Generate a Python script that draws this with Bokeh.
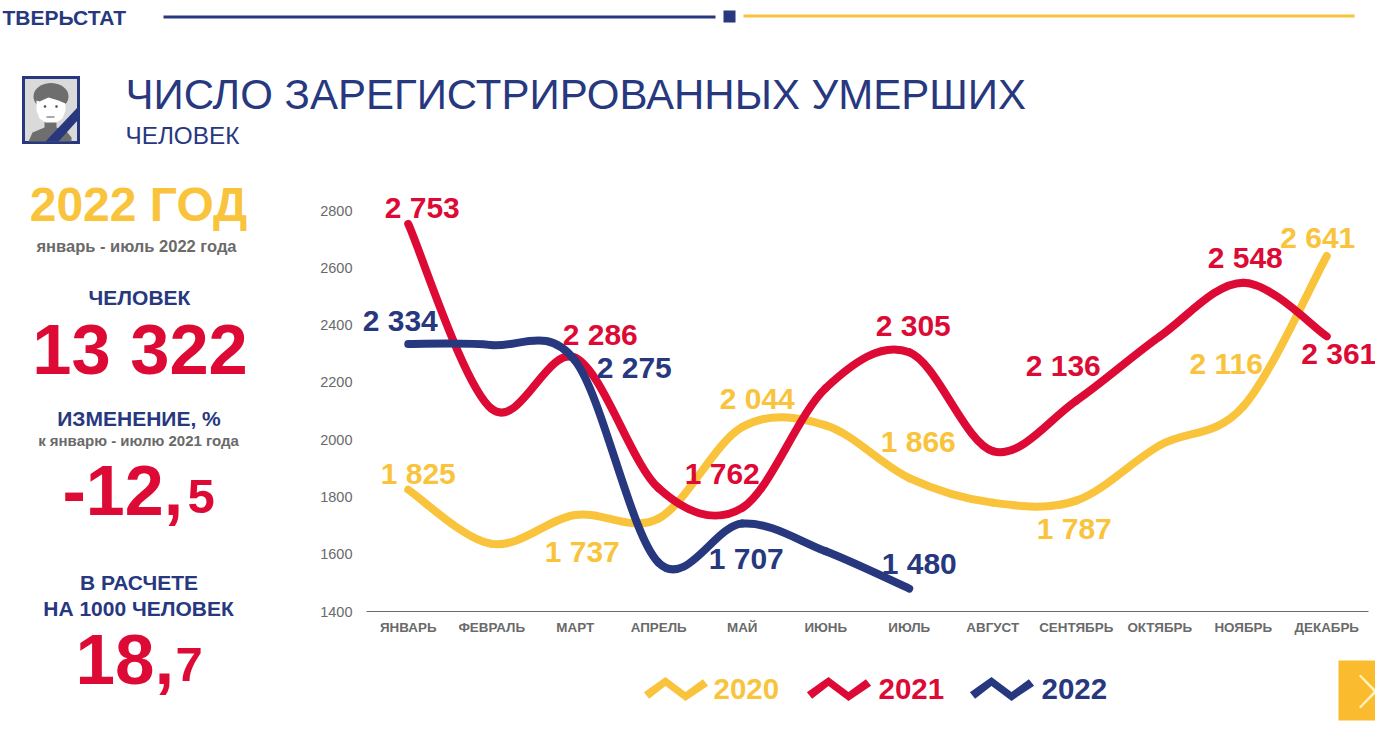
import numpy as np
from bokeh.plotting import figure
from bokeh.core.properties import value
from bokeh.models import (ColumnDataSource, Label, LabelSet, PolyAnnotation, FixedTicker, Range1d)
from bokeh.embed import file_html
from bokeh.resources import INLINE

# ---------- data ----------
months = ["ЯНВАРЬ", "ФЕВРАЛЬ", "МАРТ", "АПРЕЛЬ", "МАЙ", "ИЮНЬ", "ИЮЛЬ", "АВГУСТ",
          "СЕНТЯБРЬ", "ОКТЯБРЬ", "НОЯБРЬ", "ДЕКАБРЬ"]
y_ticks = [1400, 1600, 1800, 2000, 2200, 2400, 2600, 2800]
values_2020 = [1825, 1636, 1737, 1725, 2044, 2050, 1866, 1780, 1787, 1980, 2116, 2641]
values_2021 = [2753, 2107, 2286, 1830, 1762, 2180, 2305, 1960, 2136, 2360, 2548, 2361]
values_2022 = [2334, 2330, 2275, 1570, 1707, 1610, 1480]
# labelled months per series
labelled_2020 = [0, 2, 4, 6, 8, 10, 11]
labelled_2021 = [0, 2, 4, 6, 8, 10, 11]
labelled_2022 = [0, 2, 4, 6]

NAVY, RED, YELLOW, GREY = "#27387F", "#DC0A35", "#F9C33C", "#6A6A6A"
FONT = "Liberation Sans"
W, H = 1375, 729

# ---------- page background figure: frame fills the page, one unit is one pixel ----------
bg = figure(width=W, height=H, output_backend="svg", toolbar_location=None,
            x_range=Range1d(0, W), y_range=Range1d(H, 0),
            x_axis_location=None, y_axis_location=None,
            min_border=0, outline_line_color=None)
bg.grid.visible = False

# ---------- chart figure, laid over the page ----------
PX_PER_MONTH = 83.5
FRAME_LEFT = 360
p = figure(width=W, height=H, output_backend="svg", toolbar_location=None,
           x_range=Range1d(-(407.75 - FRAME_LEFT) / PX_PER_MONTH, (W - 407.75) / PX_PER_MONTH),
           y_range=Range1d(1400, 1400 + 431 / (401 / 1400)),
           min_border_left=FRAME_LEFT, min_border_right=0, min_border_top=180, min_border_bottom=118,
           margin=(-H, 0, 0, 0), outline_line_color=None, background_fill_color=None,
           border_fill_color=None)
p.grid.visible = False

p.xaxis.ticker = FixedTicker(ticks=list(range(12)))
p.xaxis.bounds = (-0.5, 11.5)
p.xaxis.major_label_overrides = {i: m for i, m in enumerate(months)}
p.xaxis.major_tick_line_color = None
p.xaxis.minor_tick_line_color = None
p.xaxis.axis_line_color = "#6A6A6A"
p.xaxis.axis_line_width = 1.2
p.xaxis.major_label_text_font = FONT
p.xaxis.major_label_text_font_style = "bold"
p.xaxis.major_label_text_font_size = "13.4px"
p.xaxis.major_label_text_color = GREY
p.xaxis.major_label_standoff = 2

p.yaxis.ticker = FixedTicker(ticks=y_ticks)
p.yaxis.axis_line_color = None
p.yaxis.major_tick_line_color = None
p.yaxis.minor_tick_line_color = None
p.yaxis.major_label_text_font = FONT
p.yaxis.major_label_text_font_size = "14.5px"
p.yaxis.major_label_text_color = GREY
p.yaxis.major_label_standoff = 2


def smooth(vals, color):
    """Chart-style smoothed line: one cubic Bezier per month interval."""
    v = np.array(vals, float)
    n = len(v)
    x = np.arange(n, dtype=float)
    prev_i = np.maximum(np.arange(n) - 1, 0)
    next_i = np.minimum(np.arange(n) + 1, n - 1)
    tx, ty = (x[next_i] - x[prev_i]) / 6, (v[next_i] - v[prev_i]) / 6
    p.bezier(x0=x[:-1], y0=v[:-1], x1=x[1:], y1=v[1:],
             cx0=x[:-1] + tx[:-1], cy0=v[:-1] + ty[:-1],
             cx1=x[1:] - tx[1:], cy1=v[1:] - ty[1:],
             line_color=color, line_width=8, line_cap="round")


smooth(values_2020, YELLOW)
smooth(values_2021, RED)
smooth(values_2022, NAVY)

# ---------- data labels ----------
fmt = lambda v: f"{v // 1000} {v % 1000:03d}"


def value_labels(vals, idx, dx, up, color):
    src = ColumnDataSource(dict(x=idx, y=[vals[i] for i in idx], t=[fmt(vals[i]) for i in idx],
                                dx=dx, up=up))
    p.add_layout(LabelSet(x="x", y="y", text="t", source=src, x_offset="dx", y_offset="up",
                          text_font=value(FONT), text_font_style="bold", text_font_size="30px",
                          text_color=color, text_align="center", text_baseline="middle"))


value_labels(values_2020, labelled_2020, [10, 7, 15, 9, -2, -17, -9], [16, -36.5, 28.5, 37, -28, 43, 18.5], YELLOW)
value_labels(values_2021, labelled_2021, [14, 25, -20, 4, -13, 2, 12], [16.5, 23, 34, 27, 35, 25, -17], RED)
value_labels(values_2022, labelled_2022, [-8, 59, 4, 10], [23, -7, -35, 25], NAVY)


# ---------- page decoration (pixels of the page) ----------
def txt(x, y, s, size, color, bold=True, align="center"):
    bg.add_layout(Label(x=x, y=y, x_units="canvas", y_units="canvas", text=s,
                        text_font=FONT, text_font_size=f"{size}px",
                        text_font_style="bold" if bold else "normal",
                        text_color=color, text_align=align, text_baseline="middle"))


def poly(xs, ys, color):
    bg.add_layout(PolyAnnotation(xs=list(map(float, xs)), ys=list(map(float, ys)),
                                 xs_units="canvas", ys_units="canvas",
                                 fill_color=color, fill_alpha=1, line_color=None))


def rect(x0, y0, x1, y1, color):
    poly([x0, x1, x1, x0], [y0, y0, y1, y1], color)


def oval(cx, cy, rx, ry, color):
    t = np.linspace(0, 2 * np.pi, 40, endpoint=False)
    poly(cx + rx * np.cos(t), cy + ry * np.sin(t), color)


# header
txt(2, 17, "ТВЕРЬСТАТ", 21, NAVY, align="left")
rect(163, 15, 715, 18, NAVY)
rect(723, 10, 735, 22, NAVY)
rect(743, 14, 1354, 17, YELLOW)

# icon
rect(21.5, 75.5, 79.5, 143.5, NAVY)
rect(24.5, 78.5, 76.5, 140.5, "#DADADA")
rect(44, 120, 56, 132, "#6E6E6E")
poly([28, 32, 44, 56, 67, 71, 71, 28], [141, 132, 127, 127, 132, 137, 141, 141], "#6E6E6E")
oval(50.5, 96, 17.5, 13.5, "#6E6E6E")
poly([36, 39, 48, 58, 65, 65, 62, 56, 45, 39, 36], [100, 101, 97, 100, 103, 110, 118, 122, 122, 118, 110], "white")
oval(44.5, 106, 1.3, 1.3, "#555555")
oval(56, 106, 1.3, 1.3, "#555555")
rect(46, 116, 54, 117, "#555555")
poly([77, 77, 58, 45], [107, 120, 141, 141], NAVY)

# title
txt(125, 94, "ЧИСЛО ЗАРЕГИСТРИРОВАННЫХ УМЕРШИХ", 42, NAVY, bold=False, align="left")
txt(125, 135, "ЧЕЛОВЕК", 24.3, NAVY, bold=False, align="left")

# left column
txt(138, 204, "2022 ГОД", 48, YELLOW)
txt(136, 245, "январь - июль 2022 года", 16.5, GREY)
txt(139, 297, "ЧЕЛОВЕК", 21, NAVY)
txt(139.5, 349, "13 322", 70.5, RED)
txt(138.5, 418, "ИЗМЕНЕНИЕ, %", 21, NAVY)
txt(138, 439.5, "к январю - июлю 2021 года", 15, GREY)
txt(62, 490, "-12,", 70, RED, align="left")
txt(187, 496, "5", 49, RED, align="left")
txt(138.5, 582, "В РАСЧЕТЕ", 21, NAVY)
txt(138, 608, "НА 1000 ЧЕЛОВЕК", 21, NAVY)
txt(75, 659, "18,", 71, RED, align="left")
txt(175, 664, "7", 49, RED, align="left")


# legend
def chevron(x0, color):
    cx = np.array([0, 19, 39, 59.0]) + x0
    cy = np.array([695, 681, 696, 682.0])
    nx, ny = 2.6, 3.2  # half-width of the end cuts
    top_x = [cx[0] - nx, cx[1], cx[2], cx[3] - nx]
    top_y = [cy[0] - ny, cy[1] - 4.4, cy[2] - 4.4, cy[3] - ny]
    bot_x = [cx[0] + nx, cx[1], cx[2], cx[3] + nx]
    bot_y = [cy[0] + ny, cy[1] + 4.4, cy[2] + 4.4, cy[3] + ny]
    poly(top_x + bot_x[::-1], top_y + bot_y[::-1], color)


for x0, tx0, lab, col in [(646, 713, "2020", YELLOW), (809, 878, "2021", RED), (972, 1041, "2022", NAVY)]:
    chevron(x0, col)
    txt(tx0, 688, lab, 29.5, col, align="left")

# next-page tile
rect(1338, 660, 1375, 720, "#FBBB2E")
poly([1360, 1375, 1375, 1360, 1358.5, 1373, 1358.5],
     [674, 689, 693, 708, 706.5, 691, 675.5], "#FFF2B8")

open("out.html", "w").write(file_html([bg, p], INLINE))
